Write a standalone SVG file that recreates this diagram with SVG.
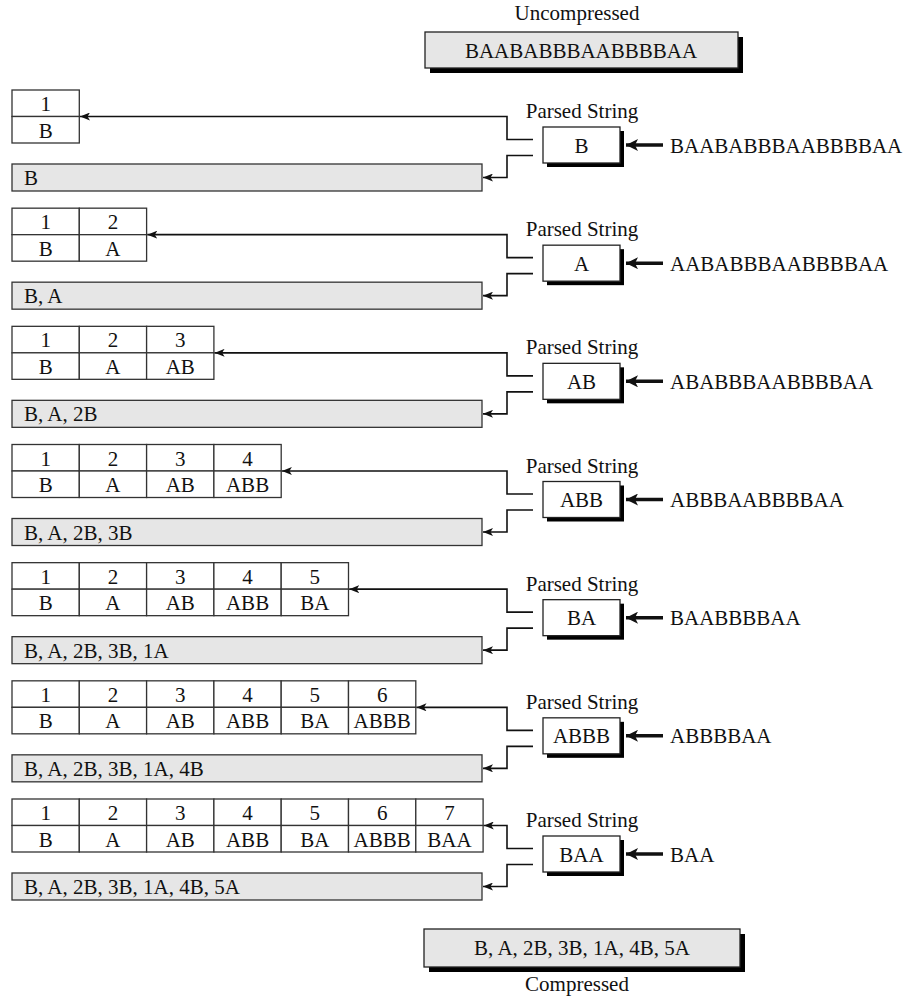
<svg xmlns="http://www.w3.org/2000/svg" width="912" height="1000" viewBox="0 0 912 1000">
<style>
text{font-family:"Liberation Serif","Times New Roman",serif;font-size:21px;fill:#111}
.c{text-anchor:middle}
.cell{fill:#fff;stroke:#333;stroke-width:1.3}
.bar{fill:#e6e6e6;stroke:#333;stroke-width:1.3}
.box{fill:#fff;stroke:#222;stroke-width:1.3}
.gbox{fill:#e6e6e6;stroke:#222;stroke-width:1.3}
.sh{fill:#000}
.ln{fill:none;stroke:#111;stroke-width:1.6}
.tk{fill:none;stroke:#111;stroke-width:3.5}
</style>
<defs>
<marker id="ah" viewBox="0 0 10 8" refX="10" refY="4" markerWidth="10" markerHeight="8" markerUnits="userSpaceOnUse" orient="auto"><path d="M0,0 L10,4 L0,8 L2.5,4 z" fill="#111"/></marker>
<marker id="ahT" viewBox="0 0 12 12" refX="12" refY="6" markerWidth="12" markerHeight="12" markerUnits="userSpaceOnUse" orient="auto"><path d="M0,0 L12,6 L0,12 L3,6 z" fill="#111"/></marker>
</defs>

<g id="uncompressed">
<text class="c" x="577" y="20">Uncompressed</text>
<rect class="sh" x="430" y="37" width="313" height="36"/>
<rect class="gbox" x="425" y="32" width="313" height="36"/>
<text class="c" x="581" y="58">BAABABBBAABBBBAA</text>
</g>

<!-- Row 1 -->
<g id="dict1" transform="translate(0,0)">
<rect class="cell" x="12" y="90" width="67.3" height="26.5"/><rect class="cell" x="12" y="116.5" width="67.3" height="26.5"/>
<text class="c" x="45.65" y="111">1</text><text class="c" x="45.65" y="137.5">B</text>
</g>
<g id="out1" transform="translate(0,0)"><rect class="bar" x="12" y="164" width="470" height="27"/><text x="24" y="185">B</text></g>
<g id="parse1" transform="translate(0,0)"><text class="c" x="582" y="118">Parsed String</text><rect class="sh" x="547" y="131" width="77" height="36"/><rect class="box" x="543" y="127" width="77" height="36"/><text class="c" x="581.5" y="152.5">B</text></g>
<g id="in1" transform="translate(0,0)"><text x="670" y="152.5">BAABABBBAABBBBAA</text></g>

<!-- Row 2 -->
<g id="dict2" transform="translate(0,118.17)">
<rect class="cell" x="12" y="90" width="67.3" height="26.5"/><rect class="cell" x="12" y="116.5" width="67.3" height="26.5"/>
<rect class="cell" x="79.3" y="90" width="67.3" height="26.5"/><rect class="cell" x="79.3" y="116.5" width="67.3" height="26.5"/>
<text class="c" x="45.65" y="111">1</text><text class="c" x="45.65" y="137.5">B</text>
<text class="c" x="112.95" y="111">2</text><text class="c" x="112.95" y="137.5">A</text>
</g>
<g id="out2" transform="translate(0,118.17)"><rect class="bar" x="12" y="164" width="470" height="27"/><text x="24" y="185">B, A</text></g>
<g id="parse2" transform="translate(0,118.17)"><text class="c" x="582" y="118">Parsed String</text><rect class="sh" x="547" y="131" width="77" height="36"/><rect class="box" x="543" y="127" width="77" height="36"/><text class="c" x="581.5" y="152.5">A</text></g>
<g id="in2" transform="translate(0,118.17)"><text x="670" y="152.5">AABABBBAABBBBAA</text></g>

<!-- Row 3 -->
<g id="dict3" transform="translate(0,236.33)">
<rect class="cell" x="12" y="90" width="67.3" height="26.5"/><rect class="cell" x="12" y="116.5" width="67.3" height="26.5"/>
<rect class="cell" x="79.3" y="90" width="67.3" height="26.5"/><rect class="cell" x="79.3" y="116.5" width="67.3" height="26.5"/>
<rect class="cell" x="146.6" y="90" width="67.3" height="26.5"/><rect class="cell" x="146.6" y="116.5" width="67.3" height="26.5"/>
<text class="c" x="45.65" y="111">1</text><text class="c" x="45.65" y="137.5">B</text>
<text class="c" x="112.95" y="111">2</text><text class="c" x="112.95" y="137.5">A</text>
<text class="c" x="180.25" y="111">3</text><text class="c" x="180.25" y="137.5">AB</text>
</g>
<g id="out3" transform="translate(0,236.33)"><rect class="bar" x="12" y="164" width="470" height="27"/><text x="24" y="185">B, A, 2B</text></g>
<g id="parse3" transform="translate(0,236.33)"><text class="c" x="582" y="118">Parsed String</text><rect class="sh" x="547" y="131" width="77" height="36"/><rect class="box" x="543" y="127" width="77" height="36"/><text class="c" x="581.5" y="152.5">AB</text></g>
<g id="in3" transform="translate(0,236.33)"><text x="670" y="152.5">ABABBBAABBBBAA</text></g>

<!-- Row 4 -->
<g id="dict4" transform="translate(0,354.5)">
<rect class="cell" x="12" y="90" width="67.3" height="26.5"/><rect class="cell" x="12" y="116.5" width="67.3" height="26.5"/>
<rect class="cell" x="79.3" y="90" width="67.3" height="26.5"/><rect class="cell" x="79.3" y="116.5" width="67.3" height="26.5"/>
<rect class="cell" x="146.6" y="90" width="67.3" height="26.5"/><rect class="cell" x="146.6" y="116.5" width="67.3" height="26.5"/>
<rect class="cell" x="213.9" y="90" width="67.3" height="26.5"/><rect class="cell" x="213.9" y="116.5" width="67.3" height="26.5"/>
<text class="c" x="45.65" y="111">1</text><text class="c" x="45.65" y="137.5">B</text>
<text class="c" x="112.95" y="111">2</text><text class="c" x="112.95" y="137.5">A</text>
<text class="c" x="180.25" y="111">3</text><text class="c" x="180.25" y="137.5">AB</text>
<text class="c" x="247.55" y="111">4</text><text class="c" x="247.55" y="137.5">ABB</text>
</g>
<g id="out4" transform="translate(0,354.5)"><rect class="bar" x="12" y="164" width="470" height="27"/><text x="24" y="185">B, A, 2B, 3B</text></g>
<g id="parse4" transform="translate(0,354.5)"><text class="c" x="582" y="118">Parsed String</text><rect class="sh" x="547" y="131" width="77" height="36"/><rect class="box" x="543" y="127" width="77" height="36"/><text class="c" x="581.5" y="152.5">ABB</text></g>
<g id="in4" transform="translate(0,354.5)"><text x="670" y="152.5">ABBBAABBBBAA</text></g>

<!-- Row 5 -->
<g id="dict5" transform="translate(0,472.67)">
<rect class="cell" x="12" y="90" width="67.3" height="26.5"/><rect class="cell" x="12" y="116.5" width="67.3" height="26.5"/>
<rect class="cell" x="79.3" y="90" width="67.3" height="26.5"/><rect class="cell" x="79.3" y="116.5" width="67.3" height="26.5"/>
<rect class="cell" x="146.6" y="90" width="67.3" height="26.5"/><rect class="cell" x="146.6" y="116.5" width="67.3" height="26.5"/>
<rect class="cell" x="213.9" y="90" width="67.3" height="26.5"/><rect class="cell" x="213.9" y="116.5" width="67.3" height="26.5"/>
<rect class="cell" x="281.2" y="90" width="67.3" height="26.5"/><rect class="cell" x="281.2" y="116.5" width="67.3" height="26.5"/>
<text class="c" x="45.65" y="111">1</text><text class="c" x="45.65" y="137.5">B</text>
<text class="c" x="112.95" y="111">2</text><text class="c" x="112.95" y="137.5">A</text>
<text class="c" x="180.25" y="111">3</text><text class="c" x="180.25" y="137.5">AB</text>
<text class="c" x="247.55" y="111">4</text><text class="c" x="247.55" y="137.5">ABB</text>
<text class="c" x="314.85" y="111">5</text><text class="c" x="314.85" y="137.5">BA</text>
</g>
<g id="out5" transform="translate(0,472.67)"><rect class="bar" x="12" y="164" width="470" height="27"/><text x="24" y="185">B, A, 2B, 3B, 1A</text></g>
<g id="parse5" transform="translate(0,472.67)"><text class="c" x="582" y="118">Parsed String</text><rect class="sh" x="547" y="131" width="77" height="36"/><rect class="box" x="543" y="127" width="77" height="36"/><text class="c" x="581.5" y="152.5">BA</text></g>
<g id="in5" transform="translate(0,472.67)"><text x="670" y="152.5">BAABBBBAA</text></g>

<!-- Row 6 -->
<g id="dict6" transform="translate(0,590.83)">
<rect class="cell" x="12" y="90" width="67.3" height="26.5"/><rect class="cell" x="12" y="116.5" width="67.3" height="26.5"/>
<rect class="cell" x="79.3" y="90" width="67.3" height="26.5"/><rect class="cell" x="79.3" y="116.5" width="67.3" height="26.5"/>
<rect class="cell" x="146.6" y="90" width="67.3" height="26.5"/><rect class="cell" x="146.6" y="116.5" width="67.3" height="26.5"/>
<rect class="cell" x="213.9" y="90" width="67.3" height="26.5"/><rect class="cell" x="213.9" y="116.5" width="67.3" height="26.5"/>
<rect class="cell" x="281.2" y="90" width="67.3" height="26.5"/><rect class="cell" x="281.2" y="116.5" width="67.3" height="26.5"/>
<rect class="cell" x="348.5" y="90" width="67.3" height="26.5"/><rect class="cell" x="348.5" y="116.5" width="67.3" height="26.5"/>
<text class="c" x="45.65" y="111">1</text><text class="c" x="45.65" y="137.5">B</text>
<text class="c" x="112.95" y="111">2</text><text class="c" x="112.95" y="137.5">A</text>
<text class="c" x="180.25" y="111">3</text><text class="c" x="180.25" y="137.5">AB</text>
<text class="c" x="247.55" y="111">4</text><text class="c" x="247.55" y="137.5">ABB</text>
<text class="c" x="314.85" y="111">5</text><text class="c" x="314.85" y="137.5">BA</text>
<text class="c" x="382.15" y="111">6</text><text class="c" x="382.15" y="137.5">ABBB</text>
</g>
<g id="out6" transform="translate(0,590.83)"><rect class="bar" x="12" y="164" width="470" height="27"/><text x="24" y="185">B, A, 2B, 3B, 1A, 4B</text></g>
<g id="parse6" transform="translate(0,590.83)"><text class="c" x="582" y="118">Parsed String</text><rect class="sh" x="547" y="131" width="77" height="36"/><rect class="box" x="543" y="127" width="77" height="36"/><text class="c" x="581.5" y="152.5">ABBB</text></g>
<g id="in6" transform="translate(0,590.83)"><text x="670" y="152.5">ABBBBAA</text></g>

<!-- Row 7 -->
<g id="dict7" transform="translate(0,709)">
<rect class="cell" x="12" y="90" width="67.3" height="26.5"/><rect class="cell" x="12" y="116.5" width="67.3" height="26.5"/>
<rect class="cell" x="79.3" y="90" width="67.3" height="26.5"/><rect class="cell" x="79.3" y="116.5" width="67.3" height="26.5"/>
<rect class="cell" x="146.6" y="90" width="67.3" height="26.5"/><rect class="cell" x="146.6" y="116.5" width="67.3" height="26.5"/>
<rect class="cell" x="213.9" y="90" width="67.3" height="26.5"/><rect class="cell" x="213.9" y="116.5" width="67.3" height="26.5"/>
<rect class="cell" x="281.2" y="90" width="67.3" height="26.5"/><rect class="cell" x="281.2" y="116.5" width="67.3" height="26.5"/>
<rect class="cell" x="348.5" y="90" width="67.3" height="26.5"/><rect class="cell" x="348.5" y="116.5" width="67.3" height="26.5"/>
<rect class="cell" x="415.8" y="90" width="67.3" height="26.5"/><rect class="cell" x="415.8" y="116.5" width="67.3" height="26.5"/>
<text class="c" x="45.65" y="111">1</text><text class="c" x="45.65" y="137.5">B</text>
<text class="c" x="112.95" y="111">2</text><text class="c" x="112.95" y="137.5">A</text>
<text class="c" x="180.25" y="111">3</text><text class="c" x="180.25" y="137.5">AB</text>
<text class="c" x="247.55" y="111">4</text><text class="c" x="247.55" y="137.5">ABB</text>
<text class="c" x="314.85" y="111">5</text><text class="c" x="314.85" y="137.5">BA</text>
<text class="c" x="382.15" y="111">6</text><text class="c" x="382.15" y="137.5">ABBB</text>
<text class="c" x="449.45" y="111">7</text><text class="c" x="449.45" y="137.5">BAA</text>
</g>
<g id="out7" transform="translate(0,709)"><rect class="bar" x="12" y="164" width="470" height="27"/><text x="24" y="185">B, A, 2B, 3B, 1A, 4B, 5A</text></g>
<g id="parse7" transform="translate(0,709)"><text class="c" x="582" y="118">Parsed String</text><rect class="sh" x="547" y="131" width="77" height="36"/><rect class="box" x="543" y="127" width="77" height="36"/><text class="c" x="581.5" y="152.5">BAA</text></g>
<g id="in7" transform="translate(0,709)"><text x="670" y="152.5">BAA</text></g>

<g id="compressed">
<rect class="sh" x="429" y="934" width="316" height="38"/>
<rect class="gbox" x="424" y="929" width="316" height="38"/>
<text class="c" x="582" y="955">B, A, 2B, 3B, 1A, 4B, 5A</text>
<text class="c" x="577" y="991">Compressed</text>
</g>

<g id="connectors">
<path class="ln" marker-end="url(#ah)" d="M533,139.5 H507 V116.5 H80"/>
<path class="ln" marker-end="url(#ah)" d="M533,155.5 H507 V177.5 H483"/>
<path class="tk" marker-end="url(#ahT)" d="M663,145 H626"/>
<g transform="translate(0,118.17)">
<path class="ln" marker-end="url(#ah)" d="M533,139.5 H507 V116.5 H147.3"/>
<path class="ln" marker-end="url(#ah)" d="M533,155.5 H507 V177.5 H483"/>
<path class="tk" marker-end="url(#ahT)" d="M663,145 H626"/>
</g>
<g transform="translate(0,236.33)">
<path class="ln" marker-end="url(#ah)" d="M533,139.5 H507 V116.5 H214.6"/>
<path class="ln" marker-end="url(#ah)" d="M533,155.5 H507 V177.5 H483"/>
<path class="tk" marker-end="url(#ahT)" d="M663,145 H626"/>
</g>
<g transform="translate(0,354.5)">
<path class="ln" marker-end="url(#ah)" d="M533,139.5 H507 V116.5 H281.9"/>
<path class="ln" marker-end="url(#ah)" d="M533,155.5 H507 V177.5 H483"/>
<path class="tk" marker-end="url(#ahT)" d="M663,145 H626"/>
</g>
<g transform="translate(0,472.67)">
<path class="ln" marker-end="url(#ah)" d="M533,139.5 H507 V116.5 H349.2"/>
<path class="ln" marker-end="url(#ah)" d="M533,155.5 H507 V177.5 H483"/>
<path class="tk" marker-end="url(#ahT)" d="M663,145 H626"/>
</g>
<g transform="translate(0,590.83)">
<path class="ln" marker-end="url(#ah)" d="M533,139.5 H507 V116.5 H416.5"/>
<path class="ln" marker-end="url(#ah)" d="M533,155.5 H507 V177.5 H483"/>
<path class="tk" marker-end="url(#ahT)" d="M663,145 H626"/>
</g>
<g transform="translate(0,709)">
<path class="ln" marker-end="url(#ah)" d="M533,139.5 H507 V116.5 H483.8"/>
<path class="ln" marker-end="url(#ah)" d="M533,155.5 H507 V177.5 H483"/>
<path class="tk" marker-end="url(#ahT)" d="M663,145 H626"/>
</g>
</g>
</svg>
